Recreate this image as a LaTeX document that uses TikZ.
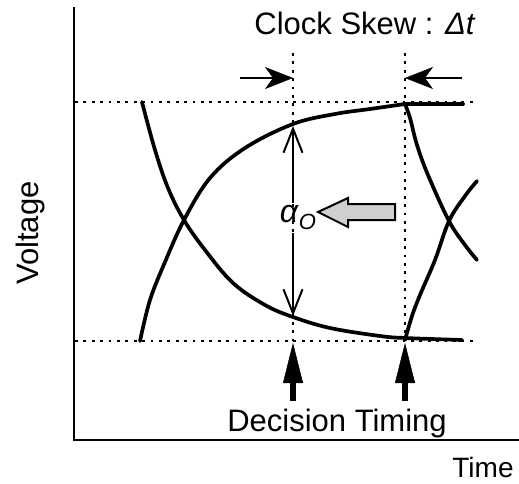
\documentclass[tikz,border=0pt]{standalone}
\usepackage{fontspec}
\setmainfont{Liberation Sans}
\usetikzlibrary{arrows.meta,positioning,calc}

\begin{document}
\begin{tikzpicture}[x=1pt,y=-1pt,
  ax/.style={line width=1.6pt},
  dots/.style={line width=2.4pt,dash pattern=on 2.8pt off 5.6pt},
  wave/.style={line width=3.7pt,line join=round,line cap=round},
  skewarr/.style={-{Stealth[length=28pt,width=22pt,inset=8pt,line width=0.5pt]},line width=2.6pt},
  barb/.style={-{Straight Barb[length=24pt,width=19pt]},line width=2pt},
  dtarr/.style={-{Triangle[length=40pt,width=20pt,line width=0.5pt]},line width=6.5pt},
  lbl/.style={font=\fontsize{31}{36}\selectfont,inner sep=0pt}]
\useasboundingbox (0,0) rectangle (519,484);
% axes
\coordinate (ytop) at (74,7);
\coordinate (orig) at (74,440);
\coordinate (xend) at (519,440);
\draw[ax] (ytop) -- (orig) -- (xend);
% levels and timing lines
\coordinate (hil) at (75,102);  \coordinate (hir) at (475,102);
\coordinate (lol) at (75,341);  \coordinate (lor) at (475,341);
\coordinate (t1top) at (293,53); \coordinate (t1bot) at (293,343);
\coordinate (t2top) at (405,53); \coordinate (t2bot) at (405,343);
\draw[dots] (hil) -- (hir);
\draw[dots] (lol) -- (lor);
\draw[dots] (t1top) -- (t1bot);
\draw[dots] (t2top) -- (t2bot);
% eye waveforms
\draw[wave] plot[smooth,tension=0.6] coordinates {(140,341) (150,300) (165,262) (184,220) (210,178) (245,148) (293,124) (335,114) (370,109) (405,104)};
\draw[wave] (405,104) -- (463,104);
\draw[wave] plot[smooth,tension=0.6] coordinates {(405,104) (410,118) (417,145) (428,175) (449,221) (465,245) (477,260)};
\draw[wave] plot[smooth,tension=0.6] coordinates {(142,102) (155,150) (168,188) (184,220) (205,250) (233,283) (265,305) (293,317) (330,328) (380,336) (405,338) (462,340)};
\draw[wave] plot[smooth,tension=0.6] coordinates {(405,340) (412,316) (420,295) (435,260) (449,221) (465,196) (477,181)};
% eye opening
\node[inner sep=3pt] (alpha) at (298,218) {\fontsize{32}{32}\selectfont\textit{α}\raisebox{-7pt}{\fontsize{22}{22}\selectfont\textit{O}}};
\coordinate (aup) at (293,126);
\coordinate (adn) at (293,316);
\draw[barb] (alpha.north -| aup) -- (aup);
\draw[barb] (alpha.south -| adn) -- (adn);
\draw[line width=2pt,fill=gray!38,line join=miter] (318,212) -- (348,198) -- (348,204) -- (395,204) -- (395,220) -- (348,220) -- (348,227) -- cycle;
% clock skew
\coordinate (sk1) at (240,78);
\coordinate (sk2) at (462,78);
\draw[skewarr] (sk1) -- (sk1 -| t1top);
\draw[skewarr] (sk2) -- (sk2 -| t2top);
\node[lbl,anchor=base] (skew) at (365,35) {Clock Skew : \textit{Δt}};
% decision timing
\coordinate (d1) at (293,401);
\coordinate (d2) at (405,401);
\draw[dtarr] (d1) -- (t1bot);
\draw[dtarr] (d2) -- (t2bot);
\node[lbl,anchor=base] (dec) at (337,431) {Decision Timing};
% axis labels
\node[lbl,font=\fontsize{28}{32}\selectfont,anchor=base] (tm) at (483,477) {Time};
\node[lbl,rotate=90,anchor=base] (volt) at (38,233) {Voltage};
\end{tikzpicture}
\end{document}
